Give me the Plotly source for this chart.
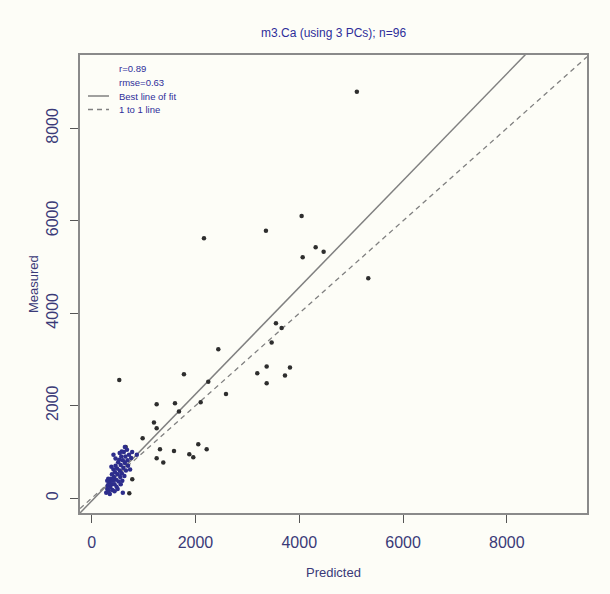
import plotly.graph_objects as go

# ---- data ----
predicted_outer = [5110, 4046, 3358, 2164, 4316, 4470, 4066, 5330, 3551, 3660,
                   3468, 2440, 2247, 2100, 2588, 3372, 3821, 3191, 3725, 3372,
                   2216, 2054, 532, 1778, 1252, 1605, 1682, 1200, 1252, 982,
                   1316, 1586, 1252, 1380, 1881, 1958, 655, 782, 725]
measured_outer = [8790, 6104, 5786, 5622, 5427, 5332, 5211, 4757, 3784, 3680,
                  3365, 3222, 2521, 2075, 2255, 2846, 2824, 2703, 2651, 2486,
                  1059, 1168, 2558, 2681, 2032, 2054, 1873, 1635, 1514, 1297,
                  1059, 1023, 865, 770, 951, 886, 1109, 411, 108]

predicted_cluster = [280, 300, 310, 330, 340, 360, 370, 380, 390, 400,
                     410, 420, 430, 440, 450, 460, 470, 480, 490, 500,
                     510, 520, 530, 540, 550, 560, 570, 580, 590, 600,
                     610, 620, 630, 640, 650, 660, 680, 690, 700, 720,
                     740, 760, 780, 420, 580, 640, 870, 320, 350, 440,
                     500, 560, 600, 300, 380, 460, 540]
measured_cluster = [120, 200, 280, 160, 350, 240, 420, 300, 520, 180,
                    380, 620, 460, 300, 560, 700, 400, 250, 640, 520,
                    780, 360, 830, 600, 460, 720, 900, 540, 380, 820,
                    660, 1000, 480, 760, 900, 600, 1050, 820, 700, 940,
                    620, 870, 1000, 940, 1010, 1110, 940, 420, 90, 150,
                    200, 300, 120, 380, 680, 860, 980]

fit_intercept = -60.0
fit_slope = 1.155
x_range = [-225, 9545]
y_range = [-320, 9585]
tick_values = [0, 2000, 4000, 6000, 8000]
tick_labels = ["0", "2000", "4000", "6000", "8000"]
legend_texts = ["r=0.89", "rmse=0.63", "Best line of fit", "1 to 1 line"]
title_text = "m3.Ca (using 3 PCs); n=96"

# ---- figure ----
W, H = 610, 594
L, R, T, B = 80, 23, 55, 81
plot_w = W - L - R
plot_h = H - T - B

def px_to_paper_x(px):
    return (px - L) / plot_w

def py_to_paper_y(py):
    return (H - B - py) / plot_h

FONT = "Liberation Sans, Arial, sans-serif"
BLUE = "#2e2e9a"
NAVY = "#3a3a78"
LINE_GRAY = "#808080"
BG = "#fdfdf7"

fig = go.Figure()

fit_x = [x_range[0], x_range[1]]
fit_y = [fit_intercept + fit_slope * v for v in fit_x]
fig.add_trace(go.Scatter(x=fit_x, y=fit_y, mode="lines",
                         line=dict(color=LINE_GRAY, width=1.5),
                         hoverinfo="skip"))
fig.add_trace(go.Scatter(x=fit_x, y=fit_x, mode="lines",
                         line=dict(color=LINE_GRAY, width=1.3, dash="5px,4px"),
                         hoverinfo="skip"))

fig.add_trace(go.Scatter(x=predicted_outer, y=measured_outer, mode="markers",
                         marker=dict(size=4.5, color="#2e2e2e"),
                         cliponaxis=True))
fig.add_trace(go.Scatter(x=predicted_cluster, y=measured_cluster, mode="markers",
                         marker=dict(size=4.5, color="#2d2d8c"),
                         cliponaxis=True))

axis_common = dict(
    showgrid=False, zeroline=False,
    showline=True, mirror=True, linecolor="#8a8a8a", linewidth=2,
    ticks="outside", ticklen=8, tickwidth=1.3, tickcolor="#555555",
    tickvals=tick_values, ticktext=tick_labels,
    tickfont=dict(family=FONT, size=16, color=NAVY),
)
fig.update_xaxes(range=x_range, ticklabelstandoff=6, **axis_common)
fig.update_yaxes(range=y_range, tickangle=-90, ticklabelstandoff=6, **axis_common)

annotations = [
    dict(text=title_text, x=0.5, y=py_to_paper_y(33), xref="paper", yref="paper",
         showarrow=False, xanchor="center", yanchor="middle",
         font=dict(family=FONT, size=12, color=BLUE)),
    dict(text="Predicted", x=0.5, y=py_to_paper_y(572), xref="paper", yref="paper",
         showarrow=False, xanchor="center", yanchor="middle",
         font=dict(family=FONT, size=13, color=NAVY)),
    dict(text="Measured", x=px_to_paper_x(33), y=0.5, xref="paper", yref="paper",
         showarrow=False, xanchor="center", yanchor="middle", textangle=-90,
         font=dict(family=FONT, size=13, color=NAVY)),
]
legend_rows_py = [69, 82.5, 96, 109.5]
for txt, py in zip(legend_texts, legend_rows_py):
    annotations.append(dict(text=txt, x=px_to_paper_x(117), y=py_to_paper_y(py),
                            xref="paper", yref="paper", showarrow=False,
                            xanchor="left", yanchor="middle",
                            font=dict(family=FONT, size=9.5, color=BLUE)))

shapes = [
    dict(type="line", xref="paper", yref="paper",
         x0=px_to_paper_x(88), x1=px_to_paper_x(109),
         y0=py_to_paper_y(96), y1=py_to_paper_y(96),
         line=dict(color=LINE_GRAY, width=1.5)),
    dict(type="line", xref="paper", yref="paper",
         x0=px_to_paper_x(88), x1=px_to_paper_x(109),
         y0=py_to_paper_y(109.5), y1=py_to_paper_y(109.5),
         line=dict(color=LINE_GRAY, width=1.3, dash="5px,4px")),
]

fig.update_layout(
    width=W, height=H, autosize=False,
    margin=dict(l=L, r=R, t=T, b=B, pad=0),
    paper_bgcolor=BG, plot_bgcolor=BG,
    showlegend=False,
    annotations=annotations, shapes=shapes,
    font=dict(family=FONT),
)

fig.write_html("out.html")
